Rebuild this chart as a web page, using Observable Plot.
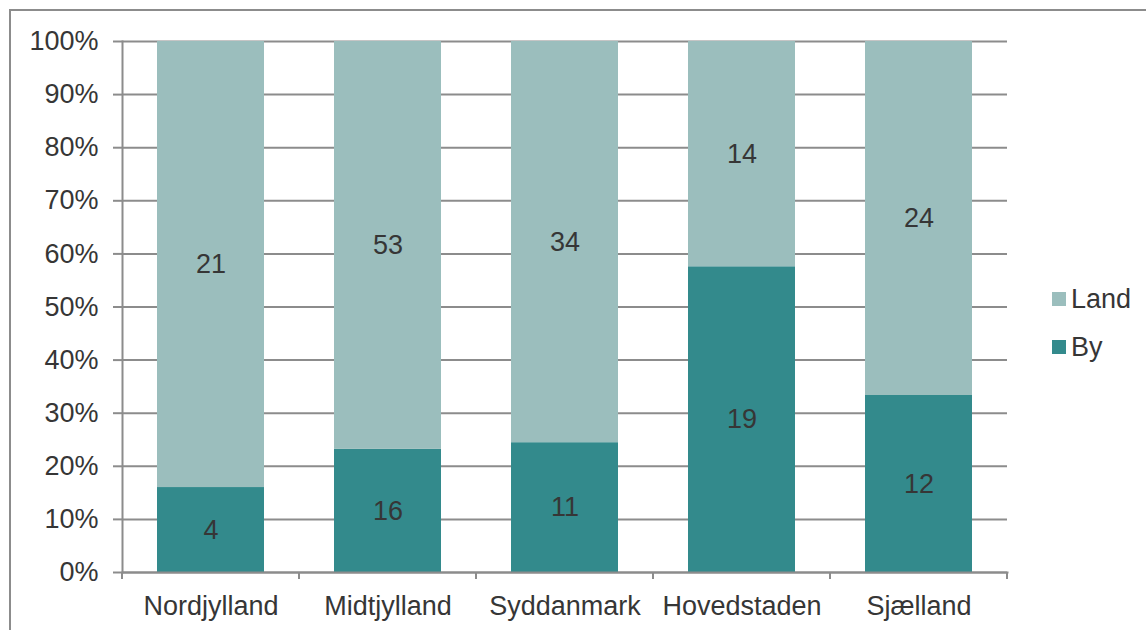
<!DOCTYPE html>
<html>
<head>
<meta charset="utf-8">
<script src="https://cdn.jsdelivr.net/npm/d3@7"></script>
<script src="https://cdn.jsdelivr.net/npm/@observablehq/plot@0.6"></script>
<style>
  html, body { margin: 0; padding: 0; background: #fff; }
  #wrap { position: relative; width: 1146px; height: 630px; overflow: hidden; font-family: "Liberation Sans", Arial, sans-serif; }
  #border { position: absolute; left: 9px; top: 9px; width: 1200px; height: 700px; border-top: 2px solid #8c8c8c; border-left: 2px solid #8c8c8c; box-sizing: border-box; }
  #chart { position: absolute; left: 0; top: 0; }
  .leg { position: absolute; left: 1052px; font-size: 27px; color: #363636; display: flex; align-items: center; }
  .sw { width: 14px; height: 14px; margin-right: 5px; }
</style>
</head>
<body>
<div id="wrap">
  <div id="border"></div>
  <div id="chart"></div>
  <div id="legend"></div>
</div>
<script>
const regions = ["Nordjylland", "Midtjylland", "Syddanmark", "Hovedstaden", "Sjælland"];
const byValues = [4, 16, 11, 19, 12];
const landValues = [21, 53, 34, 14, 24];
const seriesNames = ["By", "Land"];
const seriesColors = ["#338a8c", "#9bbebd"];
const yTicks = [0, 0.1, 0.2, 0.3, 0.4, 0.5, 0.6, 0.7, 0.8, 0.9, 1.0];

const data = [];
regions.forEach((r, i) => {
  data.push({region: r, series: "By", value: byValues[i]});
  data.push({region: r, series: "Land", value: landValues[i]});
});

const W = 1146, H = 630;
const mL = 122, mR = 139, mT = 41, mB = 58;
const gray = "#8c8c8c";
const textColor = "#363636";

function xBoundaryTicks(index, scales, values, dimensions) {
  const x = scales.x;
  const step = x(regions[1]) - x(regions[0]);
  const y0 = dimensions.height - dimensions.marginBottom;
  const g = d3.create("svg:g");
  for (let i = 0; i <= regions.length; i++) {
    const px = dimensions.marginLeft + i * step;
    g.append("line").attr("x1", px).attr("x2", px).attr("y1", y0).attr("y2", y0 + 7)
      .attr("stroke", gray).attr("stroke-width", 2);
  }
  return g.node();
}

const plot = Plot.plot({
  width: W,
  height: H,
  marginLeft: mL,
  marginRight: mR,
  marginTop: mT,
  marginBottom: mB,
  style: {fontFamily: "'Liberation Sans', Arial, sans-serif", fontSize: "27px", color: textColor, background: "transparent", overflow: "visible"},
  x: {domain: regions, paddingInner: 0.395, paddingOuter: 0.1975, label: null},
  y: {domain: [0, 1], label: null},
  color: {domain: seriesNames, range: seriesColors},
  marks: [
    Plot.gridY(yTicks, {stroke: gray, strokeOpacity: 1, strokeWidth: 2}),
    Plot.barY(data, Plot.stackY({offset: "normalize", order: seriesNames, x: "region", y: "value", z: "series", fill: "series"})),
    Plot.text(data, Plot.stackY({offset: "normalize", order: seriesNames, x: "region", y: "value", z: "series", text: d => String(d.value), fill: textColor, fontSize: 27})),
    Plot.axisY(yTicks, {tickFormat: d => Math.round(d * 100) + "%", tickSize: 9, tickPadding: 15, stroke: gray, strokeWidth: 2, fill: textColor, fontSize: 27, label: null}),
    Plot.axisX({tickSize: 0, tickPadding: 23, fill: textColor, fontSize: 27, label: null}),
    Plot.frame({anchor: "left", stroke: gray, strokeWidth: 2}),
    Plot.frame({anchor: "bottom", stroke: gray, strokeWidth: 2}),
    Plot.ruleY([0], {stroke: gray, strokeWidth: 2, render: xBoundaryTicks})
  ]
});
document.getElementById("chart").appendChild(plot);

const legend = document.getElementById("legend");
const legendItems = [{name: "Land", color: seriesColors[1], top: 299}, {name: "By", color: seriesColors[0], top: 347}];
legendItems.forEach(it => {
  const d = document.createElement("div");
  d.className = "leg";
  d.style.top = (it.top - 16) + "px";
  d.style.height = "32px";
  d.innerHTML = `<div class="sw" style="background:${it.color}"></div><span>${it.name}</span>`;
  legend.appendChild(d);
});
</script>
</body>
</html>
